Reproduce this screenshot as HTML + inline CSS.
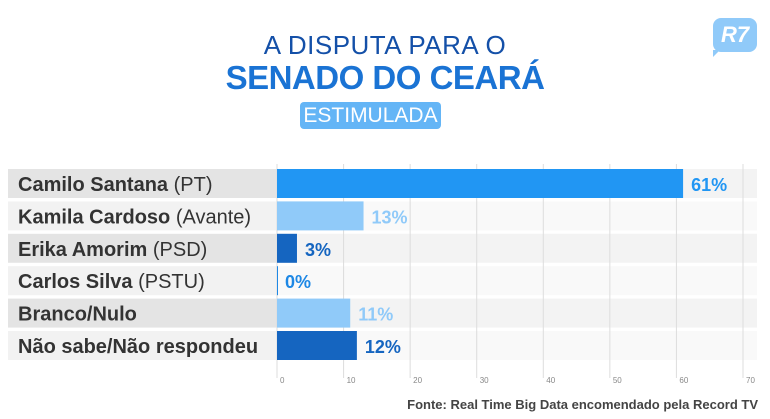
<!DOCTYPE html>
<html><head><meta charset="utf-8"><style>
body{margin:0;width:770px;height:419px;background:#fff;font-family:"Liberation Sans",sans-serif;overflow:hidden;position:relative}
.t1{position:absolute;left:0;width:770px;top:30px;text-align:center;font-size:26px;color:#1450a8;letter-spacing:0.5px}
.t2{position:absolute;left:0;width:770px;top:59px;text-align:center;font-size:33px;font-weight:bold;color:#1a73d4;letter-spacing:-0.5px}
.badge{position:absolute;left:300px;top:102px;width:141px;height:27px;background:#64b5f6;border-radius:4px;color:#fff;font-size:21px;text-align:center;line-height:28px}
.logo{position:absolute;left:713px;top:18px;width:44px;height:34px;background:#90caf9;border-radius:8px;color:#fff;font-weight:bold;font-size:22px;text-align:center;line-height:34px;font-style:italic}
.logo:after{content:"";position:absolute;left:0;bottom:-5px;border-left:7px solid #90caf9;border-bottom:7px solid transparent}
.src{position:absolute;right:12px;top:397px;font-size:13px;font-weight:bold;color:#444}
</style></head><body>
<div class="t1">A DISPUTA PARA O</div>
<div class="t2">SENADO DO CEARÁ</div>
<div class="badge">ESTIMULADA</div>
<div class="logo">R7</div>
<svg id="chart" width="770" height="419" style="position:absolute;left:0;top:0"></svg>
<div class="src">Fonte: Real Time Big Data encomendado pela Record TV</div>
<script>
const names=["Camilo Santana","Kamila Cardoso","Erika Amorim","Carlos Silva","Branco/Nulo","Não sabe/Não respondeu"];
const parties=[" (PT)"," (Avante)"," (PSD)"," (PSTU)","",""];
const values=[61,13,3,0,11,12];
const ticks=[0,10,20,30,40,50,60,70];
const colors=["#2196f3","#90caf9","#1565c0","#1e88e5","#90caf9","#1565c0"];
const svg=document.getElementById('chart');
const NS="http://www.w3.org/2000/svg";
const x=v=>277+v*(743-277)/70;
const rowY=i=>169+i*32.4;
const RH=29;
function el(t,a){const e=document.createElementNS(NS,t);for(const k in a)e.setAttribute(k,a[k]);svg.appendChild(e);return e;}
values.forEach((v,i)=>{
 const r=el('rect',{x:8,y:rowY(i),width:269,height:RH,fill:i%2==0?'#e4e4e4':'#f2f2f2'});
 
 const tr=el('rect',{x:277,y:rowY(i),width:480,height:RH,fill:i%2==0?'#f3f3f3':'#f9f9f9'});
 
});
ticks.forEach(t=>{
 const l=el('line',{x1:x(t),x2:x(t),y1:164,y2:378,stroke:'#ddd','stroke-width':1});
 
 const tx=el('text',{x:x(t)+3,y:383,'font-size':8,fill:'#888'});tx.textContent=t;
 
});
values.forEach((v,i)=>{
 const y=rowY(i);
 const b=el('rect',{x:x(0),y:y,width:Math.max(x(v)-x(0),1),height:RH,fill:colors[i]});
 
 const lt=el('text',{x:18,y:y+22,'font-size':20,fill:'#333'});
 const bs=document.createElementNS(NS,'tspan');bs.setAttribute('font-weight','bold');bs.textContent=names[i];lt.appendChild(bs);
 if(parties[i]){const p=document.createElementNS(NS,'tspan');p.textContent=parties[i];lt.appendChild(p);}
 
 const vt=el('text',{x:x(v)+8,y:y+22,'font-size':18,'font-weight':'bold',fill:colors[i]});vt.textContent=v+'%';
 
});
</script>
</body></html>
